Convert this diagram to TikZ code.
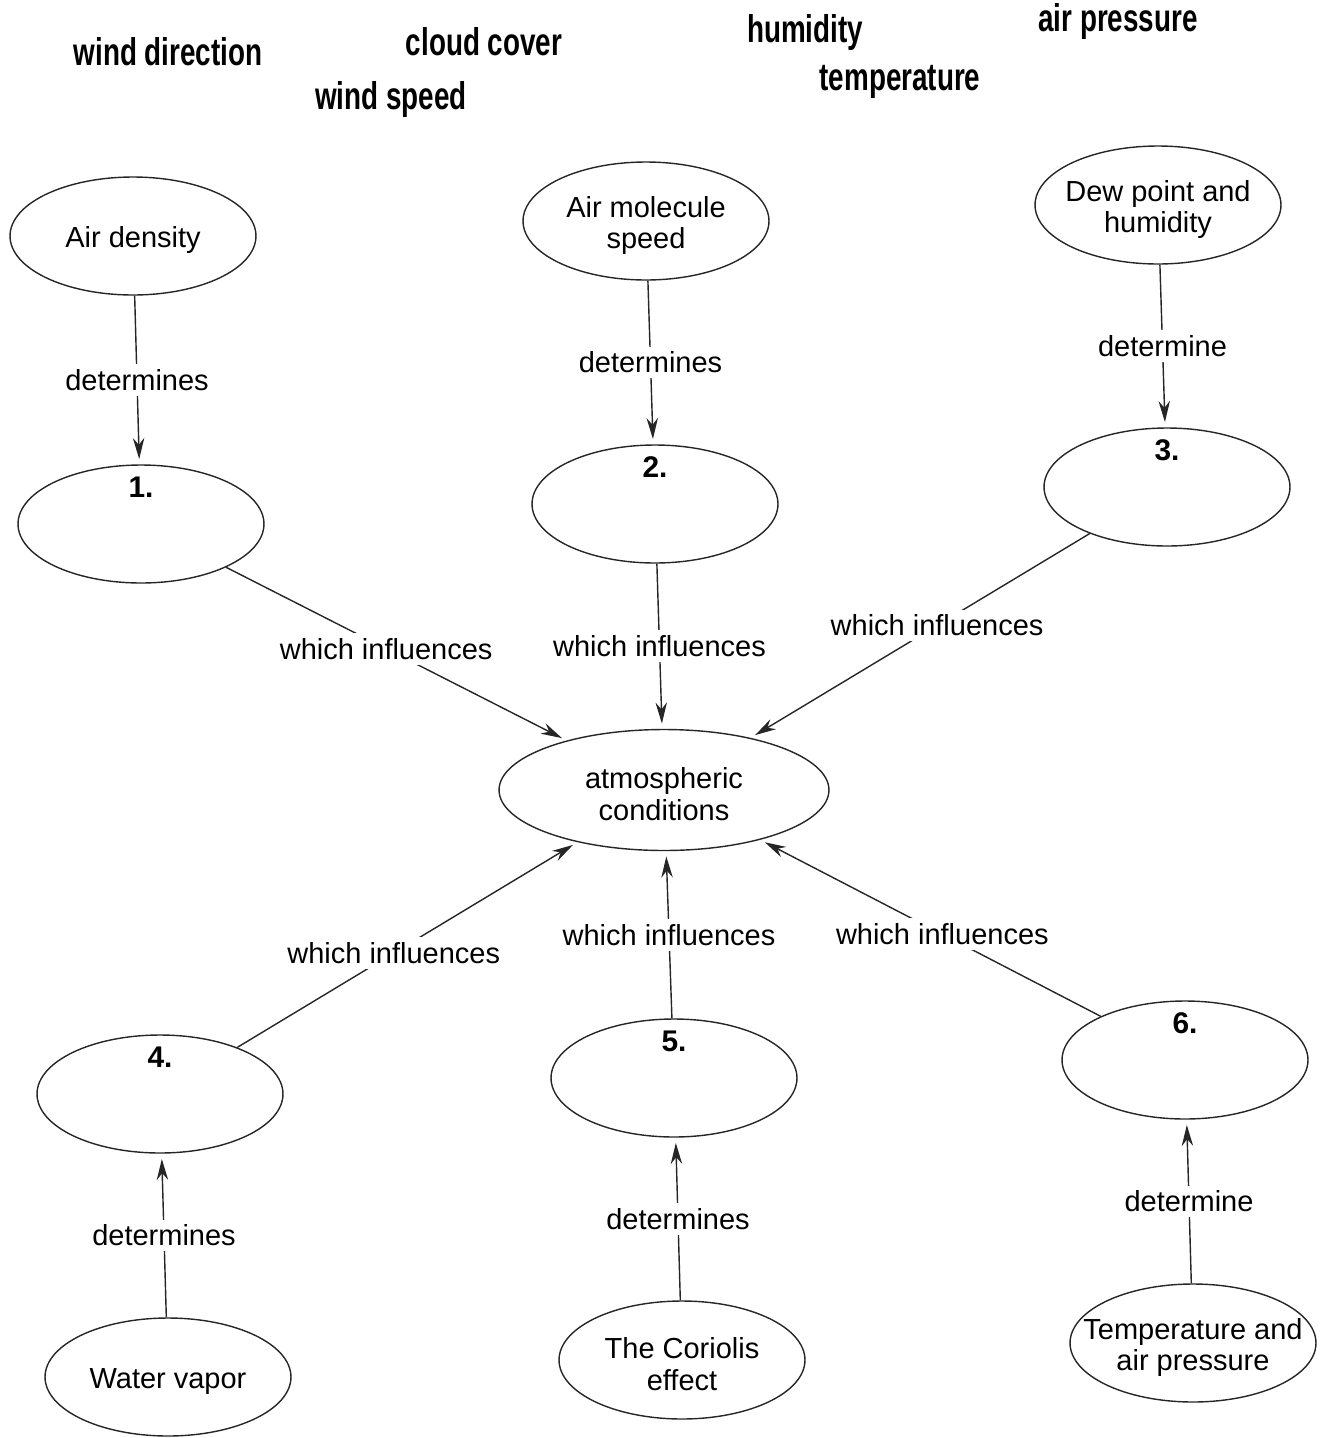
\documentclass[tikz,border=0pt]{standalone}
\usepackage{fontspec}
\setmainfont{Liberation Sans}
\newfontfamily\bankfont[FakeStretch=0.72]{Liberation Sans}
\usetikzlibrary{arrows.meta, shapes}
\usetikzlibrary{positioning}

\begin{document}
\begin{tikzpicture}[x=0.02cm,y=-0.02cm,->,>={Stealth[length=12pt,width=6.5pt]},shorten >=3pt,thick,draw=black!85,
	main node/.style={ellipse,draw,minimum width=4.92cm,minimum height=2.36cm,inner sep=0pt},
	big node/.style={main node,minimum width=6.6cm,minimum height=2.42cm},
	every label/.style={align=center,font=\fontsize{16.5}{18}\selectfont,yshift=-2.5pt},
	num/.style={font=\fontsize{17}{19}\selectfont\bfseries,anchor=north,yshift=-1pt},
	word/.style={font=\bankfont\bfseries\fontsize{22}{24}\selectfont},
	lbl/.style={fill=white,font=\fontsize{16.5}{19}\selectfont,inner sep=3pt}]
	\useasboundingbox (0,0) rectangle (1324,1438);
	
	% Lista de palabras
	\node[word] (w1) at (168,52) {wind direction};
	\node[word] (w2) at (484,42) {cloud cover};
	\node[word] (w3) at (391,99) {wind speed};
	\node[word] (w4) at (805,32) {humidity};
	\node[word] (w5) at (900,82) {temperature};
	\node[word] (w6) at (1118,21) {air pressure};
	
	% Nodos superiores
	\node[main node,label=center:Air density] (dens) at (133,236) {};
	\node[main node,label=center:{Air molecule\\speed}] (molec) at (646,221) {};
	\node[main node,label=center:{Dew point and\\humidity}] (dew) at (1158,205) {};
	\node[main node,label={[num]north:1.}] (1) at (141,524) {};
	\node[main node,label={[num]north:2.}] (2) at (655,504) {};
	\node[main node,label={[num]north:3.}] (3) at (1167,487) {};
	
	% Nodo central
	\node[big node,label=center:{atmospheric\\conditions}] (atm) at (664,790) {};
	
	% Nodos inferiores
	\node[main node,label={[num]north:4.}] (4) at (160,1094) {};
	\node[main node,label={[num]north:5.}] (5) at (674,1078) {};
	\node[main node,label={[num]north:6.}] (6) at (1185,1060) {};
	\node[main node,label=center:Water vapor] (vapor) at (168,1377) {};
	\node[main node,label=center:{The Coriolis\\effect}] (cor) at (682,1360) {};
	\node[main node,label=center:{Temperature and\\air pressure}] (tap) at (1193,1343) {};
	
	% Conexiones
	\path
	(dens) edge node[lbl] {determines} (1)
	(molec) edge node[lbl] {determines} (2)
	(dew) edge node[lbl] {determine} (3)
	(vapor) edge node[lbl] {determines} (4)
	(cor) edge node[lbl] {determines} (5)
	(tap) edge node[lbl] {determine} (6);
	
	% Conexiones hacia el nodo central
	\path
	(1) edge node[lbl,pos=0.47] {which influences} (atm)
	(2) edge node[lbl] {which influences} (atm)
	(3) edge node[lbl,pos=0.45] {which influences} (atm)
	(4) edge node[lbl,pos=0.46] {which influences} (atm)
	(5) edge node[lbl] {which influences} (atm)
	(6) edge node[lbl,pos=0.465] {which influences} (atm);
\end{tikzpicture}
\end{document}
